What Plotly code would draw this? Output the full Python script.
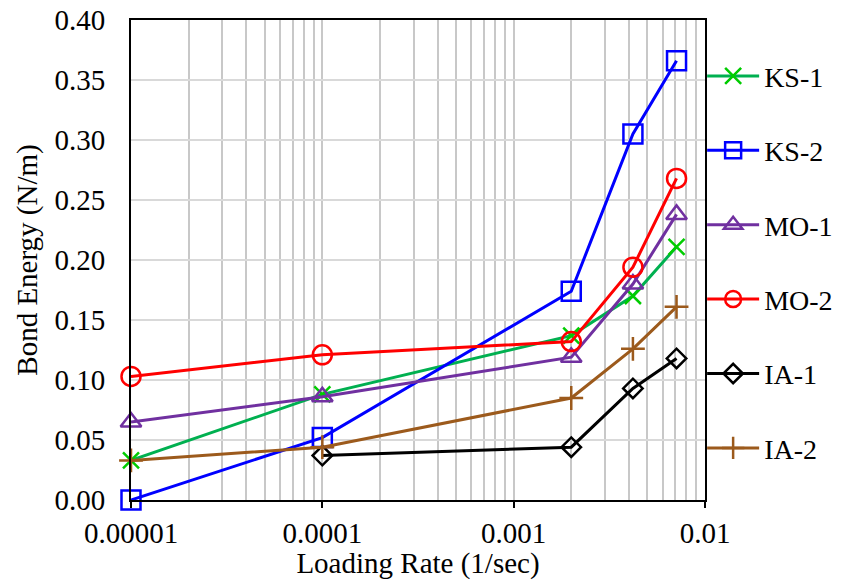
import plotly.graph_objects as go

rates = [0.00001, 0.0001, 0.002, 0.0042, 0.0071]
ks1 = [0.033, 0.088, 0.137, 0.170, 0.211]
ks2 = [0.000, 0.052, 0.174, 0.305, 0.366]
mo1 = [0.065, 0.086, 0.119, 0.180, 0.238]
mo2 = [0.103, 0.121, 0.132, 0.194, 0.268]
ia1 = [None, 0.037, 0.044, 0.093, 0.118]
ia2 = [0.033, 0.044, 0.085, 0.126, 0.161]

x_ticks = [0.00001, 0.0001, 0.001, 0.01]
x_ticktext = ["0.00001", "0.0001", "0.001", "0.01"]
y_ticks = [0.0, 0.05, 0.10, 0.15, 0.20, 0.25, 0.30, 0.35, 0.40]

series = [
    ("KS-1", ks1, "#00B050", "#00CC00", "x-thin-open", 16),
    ("KS-2", ks2, "#0000FF", "#0000FF", "square-open", 19),
    ("MO-1", mo1, "#7030A0", "#7030A0", "triangle-up-open", 18),
    ("MO-2", mo2, "#FF0000", "#FF0000", "circle-open", 19),
    ("IA-1", ia1, "#000000", "#000000", "diamond-open", 15),
    ("IA-2", ia2, "#9C5A1C", "#9C5A1C", "cross-thin-open", 17),
]

fig = go.Figure()
for i, (name, vals, lc, mc, sym, sz) in enumerate(series):
    fig.add_trace(go.Scatter(
        x=rates, y=vals, name=name, mode="lines+markers",
        line=dict(color=lc, width=3),
        marker=dict(symbol=sym, size=sz, color=mc, line=dict(color=mc, width=2.5)),
        cliponaxis=False, connectgaps=False, legendgroup=f"g{i}",
    ))

minor_vals = []
for d in [1e-5, 1e-4, 1e-3]:
    for k in range(2, 10):
        minor_vals.append(k * d)

font_family = "Liberation Serif, Times New Roman, serif"

fig.update_layout(
    width=836, height=572,
    margin=dict(l=123, r=139, t=12, b=80, autoexpand=False),
    paper_bgcolor="white", plot_bgcolor="white",
    font=dict(family=font_family, size=29, color="black"),
    showlegend=True,
    legend=dict(x=0.995, xanchor="left", y=0.935, yanchor="top",
                font=dict(size=28), tracegroupgap=35, itemwidth=52,
                bgcolor="rgba(0,0,0,0)"),
    xaxis=dict(
        type="log", range=[-5, -2], automargin=True,
        tickvals=x_ticks, ticktext=x_ticktext,
        ticks="outside", ticklen=6, tickwidth=1.5, tickcolor="black",
        showgrid=True, gridcolor="#C8C8C8", gridwidth=1.5,
        minor=dict(tickvals=minor_vals, showgrid=True, gridcolor="#C8C8C8", gridwidth=1.5, ticks=""),
        showline=True, linecolor="black", linewidth=2, mirror=True,
        title=dict(text="Loading Rate (1/sec)", font=dict(size=29), standoff=4),
        zeroline=False,
    ),
    yaxis=dict(
        range=[0, 0.40], tickvals=y_ticks, tickformat=".2f", automargin=True,
        ticks="", ticklabelstandoff=18, ticklabeloverflow="allow",
        showgrid=True, gridcolor="#D9D9D9", gridwidth=1.5,
        showline=True, linecolor="black", linewidth=2, mirror=True,
        title=dict(text="Bond Energy (N/m)", font=dict(size=29), standoff=8),
        zeroline=False,
    ),
)

fig.write_html("out.html")
